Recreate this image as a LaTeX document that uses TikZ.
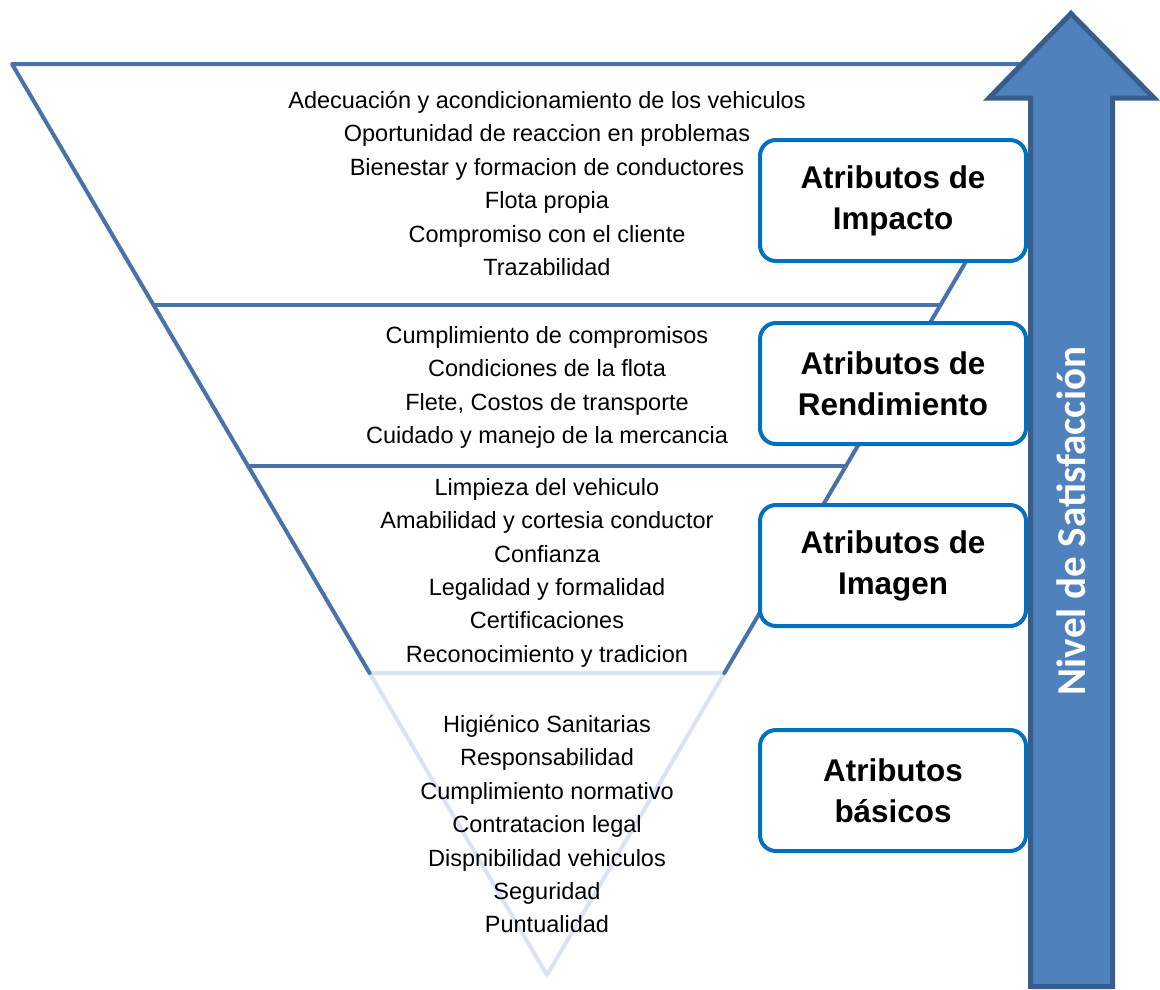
\documentclass[tikz,border=0pt]{standalone}
\usepackage{fontspec}
\setmainfont{Liberation Sans}
\newfontfamily\arrowfont{Carlito}
\definecolor{triline}{HTML}{4A72AA}
\definecolor{trilight}{HTML}{DAE3F1}
\definecolor{boxline}{HTML}{0070C0}
\definecolor{arrfill}{HTML}{4F81BD}
\definecolor{arrline}{HTML}{385D8A}
\begin{document}
\begin{tikzpicture}[x=1pt,y=-1pt,
  itemtext/.style={font=\fontsize{23.5}{33.4}\selectfont, align=center, anchor=north, inner sep=0pt},
  attrbox/.style={draw=boxline, line width=4pt, fill=white, rounded corners=16pt,
    minimum width=266pt, minimum height=121pt, align=center,
    font=\fontsize{31.4}{41}\selectfont\bfseries},
  stratum/.style={draw=triline, line width=4pt, line cap=round, line join=round},
  basic/.style={draw=trilight, line width=4pt, line join=round}]
\useasboundingbox (0,0) rectangle (1160,989);
% triangle corners
\coordinate (tl) at (12,64);
\coordinate (tr) at (1082,64);
\coordinate (apex) at (547,975);
\coordinate (l1) at (153.5,305); \coordinate (r1) at (940.5,305);
\coordinate (l2) at (248,466);   \coordinate (r2) at (846,466);
\coordinate (l3) at (369.6,673); \coordinate (r3) at (724.4,673);
% basic (light) part
\draw[basic] (l3) -- (r3) -- (apex) -- cycle;
% upper strata
\draw[stratum] (l3) -- (tl) -- (tr) -- (r3);
\draw[stratum] (l1) -- (r1);
\draw[stratum] (l2) -- (r2);
% texts
\node[itemtext] (timpacto) at (547,91) {Adecuación y acondicionamiento de los vehiculos\\Oportunidad de reaccion en problemas\\Bienestar y formacion de conductores\\Flota propia\\Compromiso con el cliente\\Trazabilidad};
\node[itemtext] (trend) at (547,326) {Cumplimiento de compromisos\\Condiciones de la flota\\Flete, Costos de transporte\\Cuidado y manejo de la mercancia};
\node[itemtext] (timagen) at (547,478) {Limpieza del vehiculo\\Amabilidad y cortesia conductor\\Confianza\\Legalidad y formalidad\\Certificaciones\\Reconocimiento y tradicion};
\node[itemtext] (tbasic) at (547,715) {Higiénico Sanitarias\\Responsabilidad\\Cumplimiento normativo\\Contratacion legal\\Dispnibilidad vehiculos\\Seguridad\\Puntualidad};
% boxes
\node[attrbox] (bimpacto) at (893,200.5) {Atributos de\\Impacto};
\node[attrbox] (brend) at (893,383.5) {Atributos de\\Rendimiento};
\node[attrbox] (bimagen) at (893,565.5) {Atributos de\\Imagen};
\node[attrbox] (bbasic) at (893,790.5) {Atributos\\básicos};
% arrow
\draw[fill=arrfill, draw=arrline, line width=5pt, line join=miter]
  (1030.5,986.5) -- (1030.5,98) -- (989,98) -- (1071,13.5) -- (1154,98)
  -- (1112.5,98) -- (1112.5,986.5) -- cycle;
\node[rotate=90, text=white, font=\arrowfont\bfseries\fontsize{41}{44}\selectfont, inner sep=0pt] (nivel) at (1071,521) {Nivel de Satisfacción};
\end{tikzpicture}
\end{document}
